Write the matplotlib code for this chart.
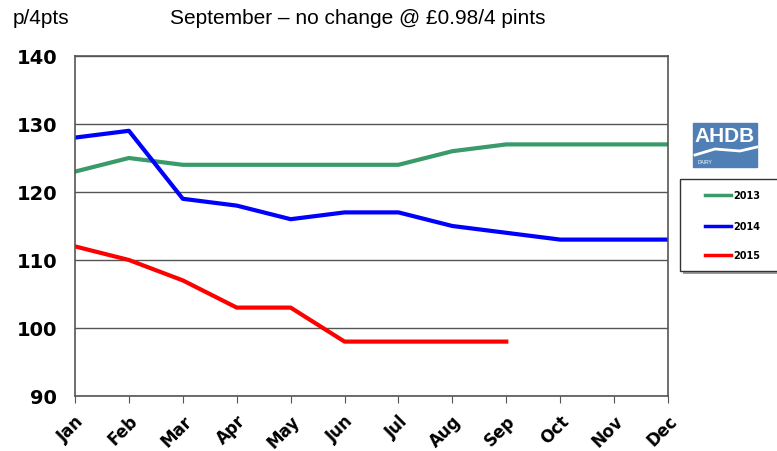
import matplotlib.pyplot as plt
from matplotlib.patches import Rectangle
from matplotlib.lines import Line2D

months = ['Jan', 'Feb', 'Mar', 'Apr', 'May', 'Jun', 'Jul', 'Aug', 'Sep', 'Oct', 'Nov', 'Dec']
y2013 = [123, 125, 124, 124, 124, 124, 124, 126, 127, 127, 127, 127]
y2014 = [128, 129, 119, 118, 116, 117, 117, 115, 114, 113, 113, 113]
y2015 = [112, 110, 107, 103, 103, 98, 98, 98, 98]
years = ['2013', '2014', '2015']
colors = ['#3a9a6a', '#0000ff', '#ff0000']

W, H = 777, 452
fig = plt.figure(figsize=(7.77, 4.52), dpi=100)
ax = fig.add_axes([75 / W, 1 - 397 / H, 593 / W, 340 / H])

x = list(range(len(months)))
ax.plot(x, y2013, color=colors[0], lw=3)
ax.plot(x, y2014, color=colors[1], lw=3)
ax.plot(x[:len(y2015)], y2015, color=colors[2], lw=3)

ax.set_xlim(0, 11)
ax.set_ylim(90, 140)
ax.set_yticks(range(90, 141, 10))
ax.set_xticks(x)
ax.set_xticklabels(months, rotation=45, ha='right', rotation_mode='anchor',
                   fontsize=12, fontweight='bold')
for lab in ax.get_yticklabels():
    lab.set_fontsize(14)
    lab.set_fontweight('bold')
ax.tick_params(axis='y', length=0, pad=13)
ax.tick_params(axis='x', length=5, color='#555555', pad=6)
ax.grid(axis='y', color='#555555', lw=1)
for s in ax.spines.values():
    s.set_color('#555555')
    s.set_linewidth(1.2)

fig.text(13 / W, 1 - 18 / H, 'p/4pts', fontsize=15, family='Liberation Sans', va='center')
fig.text(170 / W, 1 - 18 / H, 'September \u2013 no change @ \u00a30.98/4 pints', fontsize=15,
         family='Liberation Sans', va='center')

# AHDB logo block
fig.patches.append(Rectangle((693 / W, 1 - 168 / H), 64 / W, 44 / H,
                             transform=fig.transFigure, color='#4f7fb4', zorder=5))
fig.text(725 / W, 1 - 137 / H, 'AHDB', color='white', fontsize=15, fontweight='bold',
         family='Liberation Sans', ha='center', va='center', zorder=6)
fig.add_artist(Line2D([695 / W, 715 / W, 740 / W, 757 / W],
                      [1 - 156 / H, 1 - 150 / H, 1 - 152 / H, 1 - 148 / H],
                      color='white', lw=2, zorder=6))
fig.text(698 / W, 1 - 163 / H, 'DAIRY', color='white', fontsize=3.5,
         family='Liberation Sans', ha='left', va='center', zorder=6)

# legend box
fig.patches.append(Rectangle((683 / W, 1 - 275 / H), 110 / W, 92 / H,
                             transform=fig.transFigure, facecolor='#999999',
                             edgecolor='none', zorder=4))
fig.patches.append(Rectangle((680 / W, 1 - 272 / H), 110 / W, 92 / H,
                             transform=fig.transFigure, facecolor='white',
                             edgecolor='#333333', lw=1, zorder=5))
for yr, c, yp in zip(years, colors, [196, 227, 256]):
    fig.add_artist(Line2D([705 / W, 731 / W], [1 - yp / H, 1 - yp / H], color=c, lw=2.5, zorder=6))
    fig.text(733 / W, 1 - yp / H, yr, fontsize=7, fontweight='bold', va='center', zorder=6)

fig.savefig('out.png', dpi=100)
